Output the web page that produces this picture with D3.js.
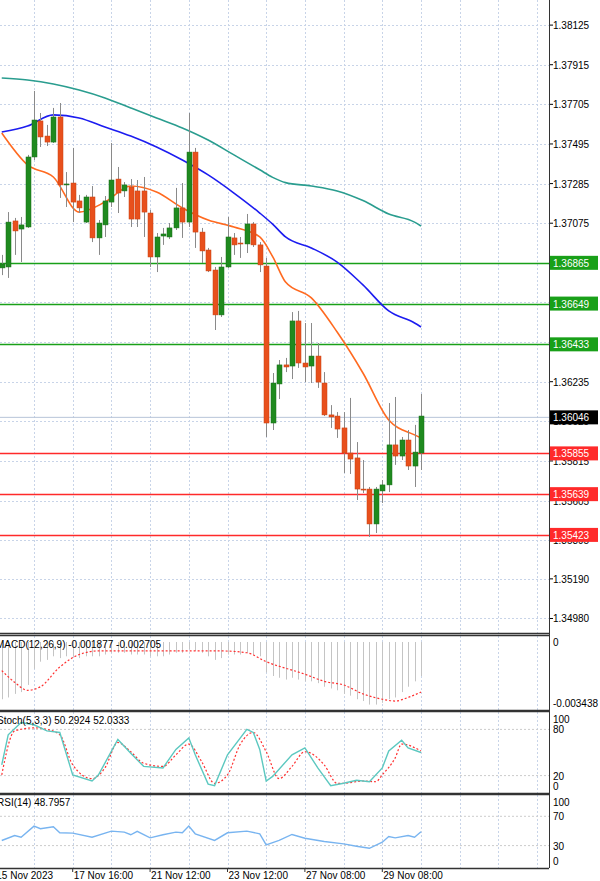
<!DOCTYPE html>
<html><head><meta charset="utf-8">
<script src="https://cdn.jsdelivr.net/npm/d3@7"></script>
<style>body{margin:0;background:#fff}svg{display:block;font-family:"Liberation Sans",Arial,sans-serif}</style>
</head><body><svg id="c" width="600" height="881"></svg>
<script>
// ---------- data ----------
const opens  = [1.36838,1.36843,1.37087,1.37044,1.37055,1.37426,1.37617,1.37537,1.37505,1.37638,1.37278,1.37288,1.37193,1.37081,1.37214,1.36997,1.37066,1.37187,1.37309,1.37246,1.37267,1.37246,1.37246,1.37129,1.36896,1.37007,1.37002,1.37050,1.37156,1.37081,1.37452,1.37028,1.36933,1.36827,1.36589,1.36843,1.36997,1.36970,1.36965,1.37071,1.36960,1.36848,1.36016,1.36223,1.36324,1.36318,1.36557,1.36334,1.36318,1.36371,1.36228,1.36059,1.36053,1.35990,1.35857,1.35831,1.35666,1.35666,1.35481,1.35656,1.35688,1.35900,1.35841,1.35926,1.35788,1.35857];
const highs  = [1.36907,1.37134,1.37103,1.37108,1.37437,1.37776,1.37659,1.37596,1.37686,1.37712,1.37346,1.37474,1.37225,1.37225,1.37272,1.37092,1.37219,1.37500,1.37373,1.37293,1.37309,1.37304,1.37320,1.37145,1.37023,1.37050,1.37076,1.37262,1.37288,1.37659,1.37474,1.37050,1.36944,1.36843,1.36896,1.37108,1.37023,1.37002,1.37124,1.37081,1.36975,1.36891,1.36281,1.36350,1.36361,1.36604,1.36610,1.36546,1.36546,1.36440,1.36286,1.36111,1.36074,1.36074,1.36149,1.35915,1.35820,1.35677,1.35677,1.35714,1.36122,1.36154,1.35942,1.35979,1.36006,1.36170];
const lows   = [1.36800,1.36785,1.36907,1.36869,1.37050,1.37410,1.37479,1.37484,1.37500,1.37209,1.37161,1.37081,1.37129,1.37076,1.36975,1.36907,1.37002,1.37161,1.37129,1.37214,1.37055,1.37055,1.37002,1.36843,1.36816,1.36960,1.36991,1.37039,1.36997,1.37055,1.36944,1.36864,1.36816,1.36509,1.36578,1.36838,1.36907,1.36891,1.36917,1.36949,1.36816,1.35942,1.35979,1.36143,1.36286,1.36249,1.36308,1.36233,1.36228,1.36202,1.36053,1.35990,1.35937,1.35751,1.35746,1.35608,1.35645,1.35412,1.35433,1.35592,1.35650,1.35794,1.35820,1.35767,1.35677,1.35767];
const closes = [1.36859,1.37081,1.37034,1.37066,1.37426,1.37622,1.37532,1.37505,1.37638,1.37278,1.37283,1.37187,1.37156,1.37214,1.36997,1.37076,1.37193,1.37304,1.37235,1.37278,1.37097,1.37097,1.37134,1.36896,1.37002,1.37018,1.37050,1.37156,1.37081,1.37452,1.37028,1.36928,1.36822,1.36589,1.36843,1.37002,1.36960,1.36965,1.37071,1.36960,1.36854,1.36016,1.36228,1.36324,1.36313,1.36557,1.36334,1.36313,1.36371,1.36233,1.36059,1.36048,1.35984,1.35857,1.35825,1.35666,1.35661,1.35481,1.35666,1.35688,1.35900,1.35841,1.35926,1.35788,1.35862,1.36053];

const maIdx    = [0,4,8,12,16,20,24,28,32,36,40,42,44,48,52,56,60,64,65];
const maFast   = [1.37553,1.37384,1.37320,1.37134,1.37187,1.37272,1.37240,1.37156,1.37092,1.37055,1.37002,1.36898,1.36763,1.36679,1.36498,1.36281,1.36032,1.35953,1.35937];
const maMid    = [1.37558,1.37590,1.37649,1.37633,1.37585,1.37537,1.37479,1.37410,1.37331,1.37235,1.37129,1.37070,1.37002,1.36944,1.36869,1.36748,1.36610,1.36546,1.36525];
const maSlow   = [1.37845,1.37834,1.37813,1.37781,1.37739,1.37686,1.37633,1.37580,1.37516,1.37437,1.37358,1.37318,1.37290,1.37272,1.37246,1.37195,1.37124,1.37081,1.37060];

const priceTicks = [1.38125,1.37915,1.37705,1.37495,1.37285,1.37075,1.36865,1.36655,1.36445,1.36235,1.36025,1.35815,1.35605,1.35395,1.35190,1.34980];
const greenLevels = [1.36865,1.36649,1.36433];
const redLevels   = [1.35855,1.35639,1.35423];
const lastPrice = 1.36046;

const macdHist = [-0.0032,-0.0031,-0.0029,-0.0028,-0.0024,-0.0015,-0.0011,-0.0010,-0.0008,-0.0009,-0.0008,-0.0008,-0.0009,-0.0008,-0.0008,-0.0008,-0.0007,-0.0006,-0.0006,-0.0006,-0.0007,-0.0007,-0.0007,-0.0008,-0.0008,-0.0008,-0.0007,-0.0006,-0.0006,-0.0004,-0.0005,-0.0006,-0.0008,-0.0010,-0.0009,-0.0007,-0.0007,-0.0007,-0.0006,-0.0007,-0.0008,-0.0017,-0.0019,-0.0020,-0.0021,-0.0020,-0.0021,-0.0022,-0.0022,-0.0023,-0.0025,-0.0026,-0.0027,-0.0029,-0.0030,-0.0032,-0.0033,-0.0035,-0.0035,-0.0034,-0.0032,-0.0031,-0.0028,-0.0025,-0.0022,-0.0019];
const macdSigIdx = [0,2,4,6,9,12,15,20,28,34,38,41,47,50,53,56,59,61,63,65];
const macdSig    = [-0.0016,-0.00225,-0.0027,-0.0025,-0.0014,-0.0007,-0.0005,-0.0005,-0.0005,-0.0005,-0.0006,-0.0011,-0.0018,-0.0022,-0.0024,-0.0029,-0.0032,-0.0033,-0.0031,-0.0028];

const stochIdx  = [0,1,3,5,7,9,11,14,15,18,20,22,25,27,29,30,32,33,35,38,39,40,41,42,45,47,49,51,53,55,57,59,60,62,63,65];
const stochMain = [34,73,89,86,78,76,21,13,21,67,49,32,30,54,69,47,9,7,47,80,76,54,13,19,47,56,30,7,10,14,12,30,52,66,56,50];
const stochSigIdx = [0,2,5,7,9,11,14,16,18,20,22,25,27,29,31,33,35,37,39,41,43,45,47,50,52,53,56,58,59,61,62,65];
const stochSig    = [21,78,82,80,73,34,16,30,63,51,36,32,47,61,38,10,21,61,76,51,16,32,51,34,10,10,13,12,21,43,61,52];

const rsiIdx = [0,2,3,5,6,8,9,11,14,17,19,20,21,23,25,27,28,29,30,33,35,38,40,41,43,45,47,50,53,55,57,59,60,61,63,64,65];
const rsiVal = [37,43.8,41.5,56.6,53,55.8,47.5,47.1,41.5,49.8,48.4,44.8,49.4,40.6,44.8,48.4,47.5,56.6,46.1,37,47.5,49.8,46.1,31,37,45.2,40.1,35.6,32.3,29.1,26.3,34.7,42.4,40.6,43.8,41.5,48.8];

const dateLabels = ["15 Nov 2023","17 Nov 16:00","21 Nov 12:00","23 Nov 12:00","27 Nov 08:00","29 Nov 08:00"];
const dateIdx = [-1,11,23,35,47,59];

// ---------- drawing ----------
const svg = d3.select("#c");
const AX = 549;
const x = d3.scaleLinear().domain([0,65]).range([1.75,421]);
const y = d3.scaleLinear().domain([1.38258, 1.38258-0.000053*632]).range([0,632]);
const yM = d3.scaleLinear().domain([0,-0.003438]).range([642,703.5]);
const yS = d3.scaleLinear().domain([20,80]).range([775.6,729.4]);
const yR = d3.scaleLinear().domain([30,70]).range([845.6,816.3]);
const panels = [[0,633],[636,710],[712,793],[795,868]];
const grid = "#c8d4e8";

const gridIdx = d3.range(-1,84,6);
panels.forEach(([t,b])=>{
  gridIdx.forEach(i=>{const gx=Math.round(x(i))+0.5; if(gx>0&&gx<AX) svg.append("line").attr("x1",gx).attr("x2",gx).attr("y1",t).attr("y2",b).attr("stroke",grid).attr("stroke-dasharray","2,2");});
});
priceTicks.forEach(p=>svg.append("line").attr("x1",0).attr("x2",AX).attr("y1",Math.round(y(p))+0.5).attr("y2",Math.round(y(p))+0.5).attr("stroke",grid).attr("stroke-dasharray","2,2"));
[20,80].forEach(v=>svg.append("line").attr("x1",0).attr("x2",AX).attr("y1",yS(v)).attr("y2",yS(v)).attr("stroke","#ccc").attr("stroke-dasharray","2,2"));
[30,70].forEach(v=>svg.append("line").attr("x1",0).attr("x2",AX).attr("y1",yR(v)).attr("y2",yR(v)).attr("stroke","#ccc").attr("stroke-dasharray","2,2"));

priceTicks.forEach(p=>{
  svg.append("line").attr("x1",AX).attr("x2",AX+4).attr("y1",y(p)).attr("y2",y(p)).attr("stroke","#000");
  svg.append("text").attr("x",553).attr("y",y(p)+4).attr("font-size",10).attr("fill","#000").text(p.toFixed(5));
});

svg.append("line").attr("x1",0).attr("x2",AX).attr("y1",y(lastPrice)).attr("y2",y(lastPrice)).attr("stroke","#b8c4d8");

function level(p,col){
  const yy=Math.round(y(p))+0.5;
  svg.append("line").attr("x1",0).attr("x2",AX).attr("y1",yy).attr("y2",yy).attr("stroke",col).attr("stroke-width",1.6);
}
greenLevels.forEach(p=>level(p,"#19a019"));
redLevels.forEach(p=>level(p,"#ff2a2a"));

const line = d3.line().x(d=>x(d[0])).y(d=>y(d[1])).curve(d3.curveMonotoneX);
[[maSlow,"#2a9d8f"],[maMid,"#1c1cf0"],[maFast,"#ff6a20"]].forEach(([arr,col])=>{
  svg.append("path").attr("d",line(maIdx.map((i,k)=>[i,arr[k]]))).attr("fill","none").attr("stroke",col).attr("stroke-width",1.6);
});

opens.forEach((o,i)=>{
  const c=closes[i], cx=Math.round(x(i))+0.5, up=c>=o;
  svg.append("line").attr("x1",cx).attr("x2",cx).attr("y1",y(highs[i])).attr("y2",y(lows[i])).attr("stroke","#8a8a8a");
  const top=y(Math.max(o,c)), bot=y(Math.min(o,c));
  svg.append("rect").attr("x",cx-2.5).attr("y",top).attr("width",5).attr("height",Math.max(1,bot-top))
    .attr("fill",up?"#1f8a1f":"#e8501c").attr("stroke",up?"#1a6e1a":"#c84010").attr("stroke-width",0.5);
});

function tag(p,bg,fg,txt){
  const yy=y(p);
  svg.append("rect").attr("x",AX+1).attr("y",yy-7).attr("width",48).attr("height",14).attr("fill",bg);
  svg.append("text").attr("x",553).attr("y",yy+4).attr("font-size",10).attr("fill",fg).text(txt);
}
greenLevels.forEach(p=>tag(p,"#19a019","#fff",p.toFixed(5)));
redLevels.forEach(p=>tag(p,"#ff2a2a","#fff",p.toFixed(5)));
tag(lastPrice,"#000","#fff",lastPrice.toFixed(5));

macdHist.forEach((v,i)=>{const cx=Math.round(x(i))+0.5;
  svg.append("line").attr("x1",cx).attr("x2",cx).attr("y1",yM(0)).attr("y2",yM(v)).attr("stroke","#c4c4c4");});
svg.append("path").attr("d",d3.line().x(d=>x(d[0])).y(d=>yM(d[1])).curve(d3.curveMonotoneX)(macdSigIdx.map((i,k)=>[i,macdSig[k]])))
  .attr("fill","none").attr("stroke","#ff3030").attr("stroke-dasharray","2,2").attr("stroke-width",1.2);
svg.append("text").attr("x",-4).attr("y",648).attr("font-size",10).text("MACD(12,26,9) -0.001877 -0.002705");
svg.append("text").attr("x",553).attr("y",646).attr("font-size",10).text("0");
svg.append("text").attr("x",553).attr("y",707).attr("font-size",10).text("-0.003438");

svg.append("path").attr("d",d3.line().x(d=>x(d[0])).y(d=>yS(d[1])).curve(d3.curveMonotoneX)(stochSigIdx.map((i,k)=>[i,stochSig[k]])))
  .attr("fill","none").attr("stroke","#ff3030").attr("stroke-dasharray","2,2").attr("stroke-width",1.2);
svg.append("path").attr("d",d3.line().x(d=>x(d[0])).y(d=>yS(d[1]))(stochIdx.map((i,k)=>[i,stochMain[k]])))
  .attr("fill","none").attr("stroke","#5cc8c0").attr("stroke-width",1.4);
svg.append("text").attr("x",-3).attr("y",724).attr("font-size",10).text("Stoch(5,3,3) 50.2924 52.0333");
[[100,5],[80,0],[20,0],[0,-5]].forEach(([v,o])=>svg.append("text").attr("x",553).attr("y",yS(v)+o+4).attr("font-size",10).text(v));

svg.append("path").attr("d",d3.line().x(d=>x(d[0])).y(d=>yR(d[1]))(rsiIdx.map((i,k)=>[i,rsiVal[k]])))
  .attr("fill","none").attr("stroke","#78b4f0").attr("stroke-width",1.4);
svg.append("text").attr("x",-3).attr("y",806).attr("font-size",10).text("RSI(14) 48.7957");
[[100,8],[70,0],[30,0],[0,-7]].forEach(([v,o])=>svg.append("text").attr("x",553).attr("y",yR(v)+o+4).attr("font-size",10).text(v));

panels.forEach(([t,b])=>{
  svg.append("line").attr("x1",0).attr("x2",AX).attr("y1",b+0.5).attr("y2",b+0.5).attr("stroke","#333").attr("stroke-width",1.5);
});
[636,712,795].forEach(t=>svg.append("line").attr("x1",0).attr("x2",AX).attr("y1",t-0.5).attr("y2",t-0.5).attr("stroke","#333").attr("stroke-width",1.5));
svg.append("line").attr("x1",AX+0.5).attr("x2",AX+0.5).attr("y1",0).attr("y2",868).attr("stroke","#333");

dateIdx.forEach((i,k)=>{
  const gx=x(i);
  svg.append("line").attr("x1",gx).attr("x2",gx).attr("y1",868).attr("y2",872).attr("stroke","#333");
  svg.append("text").attr("x",gx+1).attr("y",879).attr("font-size",10).text(dateLabels[k]);
});
</script></body></html>
